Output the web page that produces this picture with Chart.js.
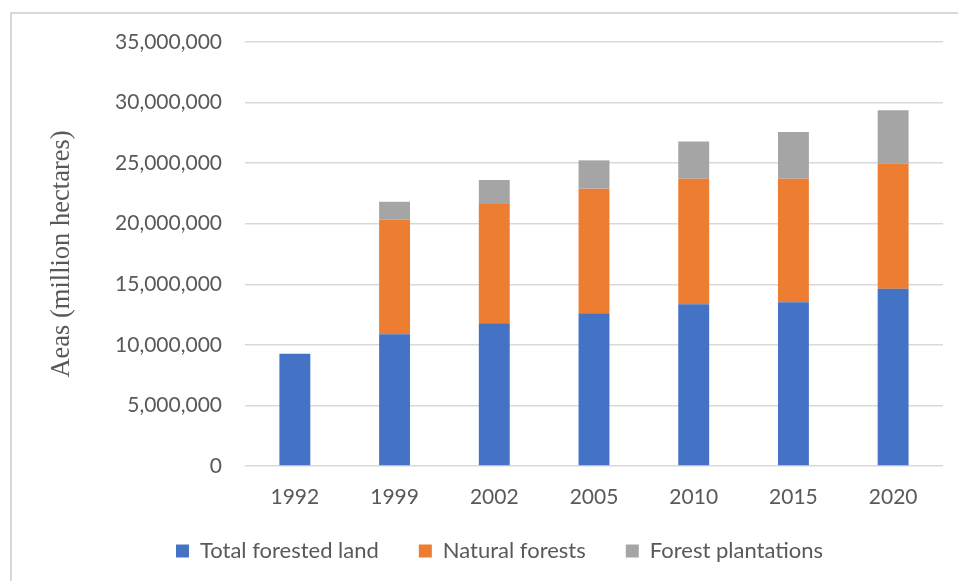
<!DOCTYPE html>
<html lang="en">
<head>
    <meta charset="UTF-8">
    <title>Forested Land Areas</title>
    <script src="https://cdn.jsdelivr.net/npm/chart.js@4.4.0/dist/chart.umd.min.js"></script>
    <style>
        html, body { margin: 0; padding: 0; background: #ffffff; overflow: hidden; }
        #frame {
            position: absolute; left: 10px; top: 12px; width: 1000px; height: 700px;
            border-left: 2px solid #d9d9d9; border-top: 2px solid #d9d9d9;
        }
        #wrap { position: absolute; left: 0; top: 0; width: 958px; height: 581px; }
    </style>
</head>
<body>
    <div id="frame"></div>
    <div id="wrap"><canvas id="forestChart" width="958" height="581"></canvas></div>

    <script>
        const years = ['1992', '1999', '2002', '2005', '2010', '2015', '2020'];
        const totalForested = [9270000, 10870000, 11780000, 12600000, 13350000, 13510000, 14640000];
        const naturalForests = [0, 9480000, 9840000, 10290000, 10370000, 10210000, 10320000];
        const forestPlantations = [0, 1460000, 1990000, 2340000, 3060000, 3860000, 4410000];

        const tickFont = { family: 'Lato', size: 21 };
        const tickColor = '#595959';

        // wide gaps between legend items, but keep the legend box short
        const legendPlace = {
            id: 'legendPlace',
            beforeInit(chart) {
                const fit = chart.legend.fit;
                chart.legend.fit = function () {
                    fit.bind(chart.legend)();
                    this.height = 65;
                };
            },
            afterLayout(chart) {
                const lg = chart.legend;
                lg.top = 500;
                lg.bottom = 581;
                lg.left += 5;
                lg.right += 5;
            }
        };

        const ctx = document.getElementById('forestChart').getContext('2d');
        const forestChart = new Chart(ctx, {
            type: 'bar',
            data: {
                labels: years,
                datasets: [
                    { label: 'Total forested land', data: totalForested, backgroundColor: '#4472C4' },
                    { label: 'Natural forests', data: naturalForests, backgroundColor: '#ED7D31' },
                    { label: 'Forest plantations', data: forestPlantations, backgroundColor: '#A5A5A5' }
                ]
            },
            options: {
                responsive: false,
                animation: false,
                barPercentage: 0.31,
                categoryPercentage: 1,
                layout: {
                    padding: { left: 46, right: 15, top: 42, bottom: 0 }
                },
                plugins: {
                    legend: {
                        position: 'bottom',
                        labels: {
                            color: tickColor,
                            font: { family: 'Lato', size: 22 },
                            boxWidth: 13,
                            boxHeight: 13,
                            padding: 40
                        }
                    },
                    tooltip: { enabled: false }
                },
                scales: {
                    x: {
                        stacked: true,
                        afterFit: scale => { scale.height = 50; },
                        grid: { display: false, drawTicks: false },
                        border: { display: false },
                        ticks: { color: tickColor, font: tickFont, padding: 19 }
                    },
                    y: {
                        stacked: true,
                        min: 0,
                        max: 35000000,
                        afterFit: scale => { scale.width = 199; },
                        grid: { color: '#d9d9d9', lineWidth: 1.5, drawTicks: false },
                        border: { display: false },
                        ticks: {
                            stepSize: 5000000,
                            color: tickColor,
                            font: tickFont,
                            padding: 23,
                            callback: value => value.toLocaleString('en-US')
                        },
                        title: {
                            display: true,
                            text: 'Aeas (million hectares)',
                            color: tickColor,
                            font: { family: 'Liberation Serif', size: 26.5 },
                            padding: 0
                        }
                    }
                }
            },
            plugins: [legendPlace]
        });
    </script>
</body>
</html>
